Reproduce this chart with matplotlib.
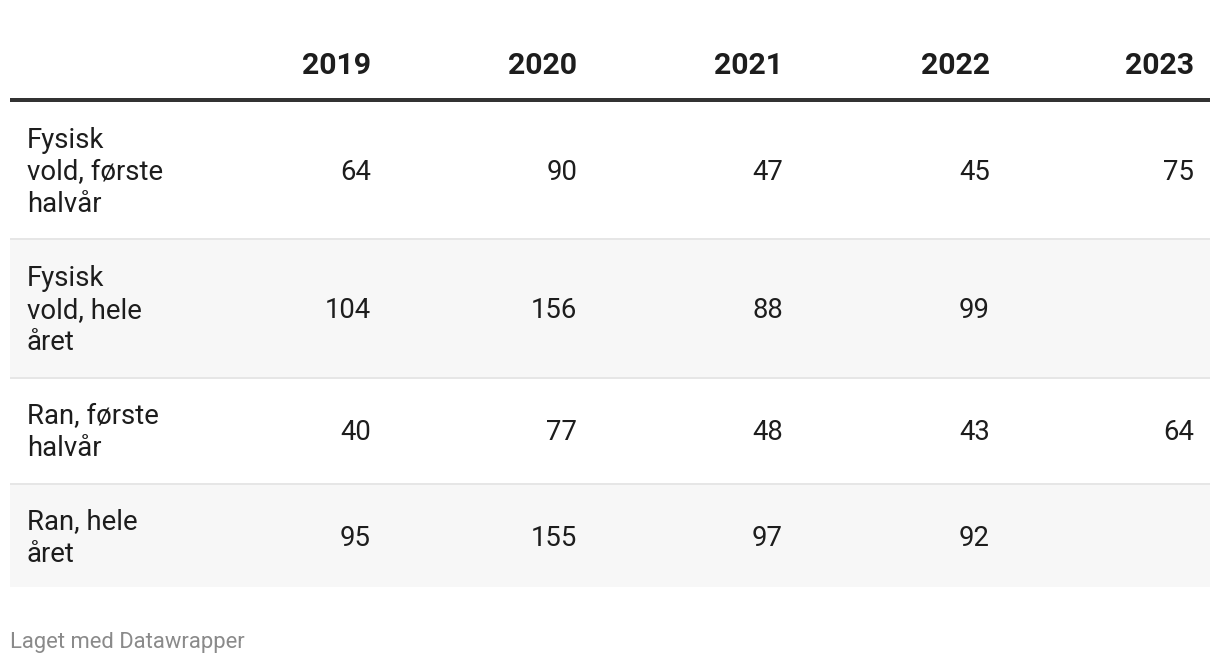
import matplotlib
matplotlib.use("Agg")
import matplotlib.pyplot as plt
from matplotlib.patches import Rectangle

years = ["2019", "2020", "2021", "2022", "2023"]
row_labels = [
    ["Fysisk", "vold, første", "halvår"],
    ["Fysisk", "vold, hele", "året"],
    ["Ran, første", "halvår"],
    ["Ran, hele", "året"],
]
fysisk_forste = [64, 90, 47, 45, 75]
fysisk_hele = [104, 156, 88, 99, None]
ran_forste = [40, 77, 48, 43, 64]
ran_hele = [95, 155, 97, 92, None]
values = [fysisk_forste, fysisk_hele, ran_forste, ran_hele]
footer = "Laget med Datawrapper"

W, H = 1220, 664
DPI = 100
fig = plt.figure(figsize=(W / DPI, H / DPI), dpi=DPI)
ax = fig.add_axes([0, 0, 1, 1])
ax.set_xlim(0, W)
ax.set_ylim(H, 0)
ax.axis("off")

px = 72 / DPI  # points per pixel
FONT = "Roboto"
TXT = "#1d1d1d"

col_right = [371, 577, 783, 990, 1194]
left, right = 10, 1210
label_x = 27

# header
for yr, xr in zip(years, col_right):
    ax.text(xr, 74, yr, ha="right", va="baseline", fontsize=30.2 * px,
            fontweight="bold", family=FONT, color=TXT)
ax.plot([left, right], [100, 100], color="#333333", lw=4 * px,
        solid_capstyle="butt")

# rows: (top, bottom)
rows = [(102, 238), (240, 377), (378, 483), (484, 587)]
line_gap = 32
for i, ((top, bot), labels, vals) in enumerate(zip(rows, row_labels, values)):
    if i % 2 == 1:
        ax.add_patch(Rectangle((left, top), right - left, bot - top,
                               facecolor="#f7f7f7", edgecolor="none", zorder=0))
    if i < len(rows) - 1:
        ax.plot([left, right], [bot + 0.5, bot + 0.5], color="#e6e6e6",
                lw=2 * px, solid_capstyle="butt", zorder=1)
    center = (top + bot) / 2
    n = len(labels)
    first_base = center + 10 - (n - 1) * line_gap / 2
    for j, lab in enumerate(labels):
        ax.text(label_x, first_base + j * line_gap, lab, ha="left",
                va="baseline", fontsize=27.5 * px, family=FONT, color=TXT)
    for v, xr in zip(vals, col_right):
        if v is None:
            continue
        ax.text(xr, center + 10, str(v), ha="right", va="baseline",
                fontsize=27.5 * px, family=FONT, color=TXT)

ax.text(10, 648, footer, ha="left", va="baseline", fontsize=22 * px,
        family=FONT, color="#8a8a8a")

fig.savefig("out.png", dpi=DPI, facecolor="white")
